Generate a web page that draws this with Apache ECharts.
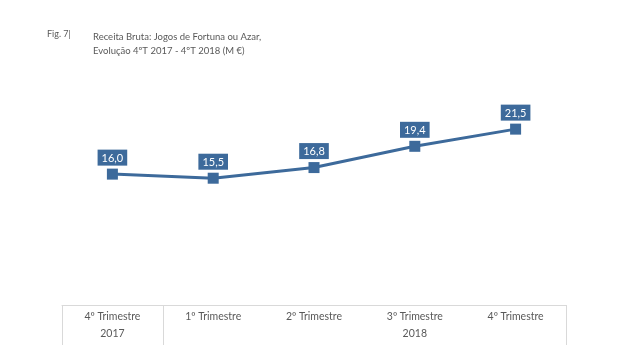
<!DOCTYPE html>
<html><head><meta charset="utf-8">
<script src="https://cdn.jsdelivr.net/npm/echarts@6/dist/echarts.min.js"></script>
<style>html,body{margin:0;padding:0;background:#fff}#c{width:620px;height:349px}</style>
</head><body><div id="c"></div>
<script>
var categories = ['4º Trimestre','1º Trimestre','2º Trimestre','3º Trimestre','4º Trimestre'];
var values = [16.0, 15.5, 16.8, 19.4, 21.5];
var years = ['2017','2018'];
var yearPositions = [0.5, 3.5];
var yearBoundaries = [0, 1, 5];

var chart = echarts.init(document.getElementById('c'));
var font = 'Lato';
chart.setOption({
  animation: false,
  backgroundColor: '#fff',
  graphic: [
    {type:'text', left: 47, top: 30, style:{text:'Fig. 7|', fill:'#595959', font:'9px '+font}},
    {type:'text', left: 93, top: 30, style:{text:'Receita Bruta: Jogos de Fortuna ou Azar,\nEvolução 4ºT 2017 - 4ºT 2018 (M €)', fill:'#595959', font:'9.5px '+font, lineHeight: 14}}
  ],
  grid: {left: 62, right: 54, top: 100.5, bottom: 44},
  xAxis: [{
    type: 'category', data: categories, position: 'bottom',
    axisLine: {show: true, lineStyle: {color: '#d9d9d9', width: 1}},
    axisTick: {show: false},
    axisLabel: {color: '#595959', fontFamily: font, fontSize: 10.5, margin: 6}
  }, {
    type: 'value', min: 0, max: 5, position: 'bottom',
    axisLine: {show: false},
    splitLine: {show: false},
    axisTick: {show: true, customValues: yearBoundaries, length: 40, lineStyle: {color: '#d9d9d9'}},
    axisLabel: {customValues: yearPositions, color: '#595959', fontFamily: font, fontSize: 10.5, margin: 23,
      formatter: function(v){ return v < 1 ? years[0] : years[1]; }}
  }],
  yAxis: {type: 'value', min: 0, max: 25, show: false, splitLine: {show: false}},
  series: [{
    type: 'line', data: values, xAxisIndex: 0,
    symbol: 'rect', symbolSize: 11,
    lineStyle: {color: '#3d6a9b', width: 3},
    itemStyle: {color: '#3d6a9b'},
    label: {show: true, position: 'top', distance: 3,
      backgroundColor: '#3d6a9b', color: '#fff', fontFamily: font, fontSize: 11,
      padding: [3, 4, 2, 4],
      formatter: function(p){ return p.value.toFixed(1).replace('.', ','); }}
  }]
});
</script></body></html>
